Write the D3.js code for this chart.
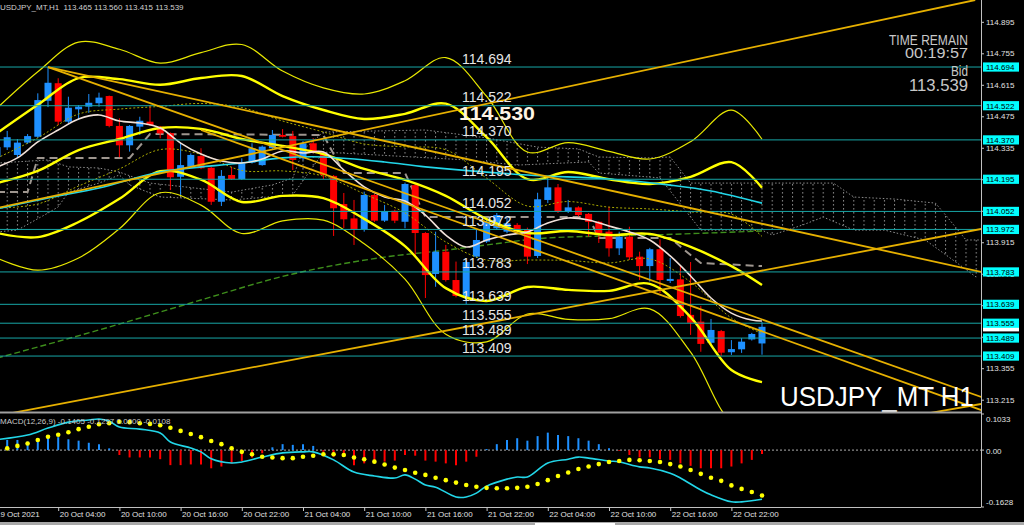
<!DOCTYPE html>
<html><head><meta charset="utf-8">
<script src="https://cdn.jsdelivr.net/npm/d3@7"></script>
<style>
html,body{margin:0;padding:0;background:#000;overflow:hidden}
svg{display:block}
text{font-family:"Liberation Sans",Arial,sans-serif}
</style></head><body>
<svg id="c" width="1024" height="525"></svg>
<script>
// ---------------- DATA ----------------
const symbolTitle = "USDJPY_MT,H1  113.465 113.560 113.415 113.539";
const candleOpen = [114.294,114.337,114.303,114.358,114.384,114.544,114.622,114.451,114.506,114.518,114.533,114.565,114.432,114.346,114.429,114.451,114.429,114.400,114.206,114.251,114.298,114.246,114.095,114.214,114.196,114.269,114.258,114.333,114.392,114.387,114.288,114.355,114.313,114.210,114.085,114.021,113.973,114.125,114.011,114.055,114.006,114.169,113.956,113.774,113.873,113.747,113.672,113.851,113.918,113.977,113.962,113.992,113.973,113.854,114.103,114.159,114.051,114.070,114.041,114.006,113.962,113.888,113.940,113.851,113.809,113.884,113.743,113.750,113.592,113.562,113.468,113.520,113.426,113.439,113.483,113.465];
const candleHigh = [114.352,114.410,114.374,114.396,114.577,114.694,114.644,114.562,114.525,114.574,114.580,114.567,114.466,114.436,114.473,114.525,114.432,114.403,114.358,114.310,114.333,114.250,114.236,114.251,114.288,114.355,114.345,114.414,114.418,114.410,114.365,114.378,114.318,114.214,114.134,114.103,114.140,114.130,114.081,114.060,114.180,114.175,113.960,113.962,113.903,113.829,113.835,113.970,114.015,114.045,114.029,114.000,113.980,114.135,114.206,114.174,114.103,114.075,114.045,114.010,114.073,113.962,113.984,113.873,113.890,113.928,113.845,113.814,113.827,113.632,113.574,113.525,113.480,113.489,113.512,113.560];
const candleLow = [114.281,114.325,114.290,114.352,114.378,114.516,114.436,114.445,114.458,114.490,114.518,114.426,114.293,114.318,114.392,114.432,114.377,114.147,114.121,114.245,114.240,114.081,114.076,114.192,114.192,114.265,114.255,114.330,114.381,114.236,114.280,114.310,114.196,113.943,113.978,113.903,113.962,114.005,114.005,114.000,113.977,113.849,113.667,113.717,113.740,113.670,113.639,113.845,113.912,113.970,113.955,113.955,113.818,113.845,114.089,114.045,114.045,114.030,113.940,113.912,113.851,113.858,113.836,113.747,113.740,113.689,113.734,113.580,113.503,113.428,113.460,113.409,113.414,113.423,113.478,113.415];
const candleClose = [114.338,114.382,114.358,114.387,114.547,114.624,114.451,114.513,114.518,114.535,114.558,114.432,114.346,114.432,114.455,114.436,114.399,114.204,114.258,114.303,114.244,114.095,114.210,114.196,114.266,114.333,114.340,114.392,114.384,114.281,114.355,114.313,114.214,114.066,114.017,113.973,114.125,114.011,114.054,114.011,114.174,113.956,113.769,113.873,113.747,113.676,113.827,113.925,114.006,114.036,113.999,113.962,113.851,114.106,114.159,114.051,114.070,114.036,114.006,113.955,113.888,113.940,113.848,113.809,113.884,113.747,113.752,113.587,113.557,113.463,113.525,113.424,113.440,113.473,113.507,113.539];

// Bollinger bands (read every 4 bars)
const bbIdx   = [0,4,8,12,16,20,24,28,32,36,40,44,48,52,56,60,64,68,72,75];
const bbMid   = [114.178,114.232,114.325,114.374,114.423,114.419,114.374,114.343,114.307,114.241,114.192,114.121,114.018,113.956,113.965,113.947,113.952,113.894,113.809,113.725];
const bbUp1   = [114.289,114.379,114.485,114.507,114.519,114.532,114.514,114.454,114.405,114.352,114.339,114.326,114.200,114.076,114.096,114.071,114.063,114.050,114.040,113.941];
const bbUp2   = [114.400,114.526,114.645,114.640,114.615,114.645,114.654,114.565,114.503,114.463,114.486,114.531,114.382,114.196,114.227,114.195,114.174,114.206,114.271,114.157];
const bbUp3   = [114.511,114.673,114.805,114.773,114.711,114.758,114.794,114.676,114.601,114.574,114.633,114.736,114.564,114.316,114.358,114.319,114.285,114.362,114.502,114.373];
const bbLo1   = [114.067,114.085,114.165,114.241,114.327,114.306,114.234,114.232,114.209,114.130,114.045,113.916,113.836,113.836,113.834,113.823,113.841,113.738,113.578,113.509];
const bbLo2   = [113.956,113.938,114.005,114.108,114.231,114.193,114.094,114.121,114.111,114.019,113.898,113.711,113.654,113.716,113.703,113.699,113.730,113.582,113.347,113.293];
const bbLo3   = [113.845,113.791,113.845,113.975,114.135,114.080,113.954,114.010,114.013,113.908,113.751,113.506,113.472,113.596,113.572,113.575,113.619,113.426,113.116,113.077];

// short MA (white)
const maFastIdx = [0,2,4,6,8,10,12,14,16,18,20,22,24,26,28,30,32,34,36,38,40,42,44,46,48,50,52,54,56,58,60,62,64,66,68,70,72,74,75];
const maFastVal = [114.250,114.290,114.361,114.414,114.463,114.481,114.454,114.445,114.423,114.356,114.307,114.276,114.267,114.285,114.321,114.312,114.316,114.236,114.161,114.116,114.098,114.036,113.947,113.894,113.925,113.947,113.961,114.001,114.023,114.014,113.987,113.961,113.925,113.854,113.765,113.667,113.600,113.569,113.565];
// medium MA (cyan)
const maMidIdx = [0,5,10,16,24,28,32,38,42,52,60,66,70,75];
const maMidVal = [114.063,114.112,114.156,114.227,114.267,114.290,114.294,114.272,114.250,114.214,114.196,114.169,114.143,114.089];
// long MA (green dashed)
const maSlowIdx = [0,10,19,29,38,44,48,54,64,75];
const maSlowVal = [113.400,113.525,113.645,113.774,113.849,113.880,113.903,113.934,113.947,113.965];

// Ichimoku
const spanAIdx = [0,5,7,10,12,15,23,27,29,30,32,42,48,53,57,59,64,66,68,82,84,88,92,93,95,97];
const spanAVal = [114.267,114.281,114.250,114.245,114.227,114.178,114.138,114.170,114.201,114.325,114.405,114.414,114.379,114.338,114.330,114.294,114.290,114.294,114.178,114.178,114.116,114.107,114.089,114.036,113.925,113.925];
const spanBIdx = [0,2,5,6,7,10,12,13,16,23,29,32,46,51,58,59,65,68,69,75,76,79,81,84,87,91,94,96];
const spanBVal = [113.961,113.969,114.045,114.072,114.138,114.178,114.214,114.170,114.116,114.103,114.125,114.316,114.281,114.258,114.272,114.223,114.201,114.027,113.969,113.969,113.947,113.992,114.027,113.969,113.969,113.925,113.827,113.760];
const kijunIdx = [0,3,4,13,15,32,34,40,42,58,59,66,68,69,75];
const kijunVal = [114.138,114.138,114.290,114.290,114.396,114.392,114.223,114.223,114.027,114.027,113.934,113.934,113.858,113.823,113.809];

// horizontal levels and trendlines
const levels = [114.694,114.522,114.370,114.195,114.052,113.972,113.783,113.639,113.555,113.489,113.409];
const trendFromIdx   = [5,5,20,0,0,91.5];
const trendFromPrice = [114.694,114.694,114.414,114.067,113.143,113.156];
const trendToIdx     = [96.5,96.5,96.5,95.9,96.5,96.5];
const trendToPrice   = [113.783,113.227,113.169,114.992,113.974,113.196];

// MACD
const macdHist = [0.030,0.029,0.029,0.024,0.032,0.040,0.037,0.031,0.027,0.021,0.017,0.005,-0.014,-0.021,-0.021,-0.021,-0.026,-0.043,-0.043,-0.041,-0.041,-0.052,-0.047,-0.038,-0.031,-0.021,-0.009,0.008,0.017,0.015,0.017,0.012,-0.005,-0.019,-0.019,-0.043,-0.038,-0.033,-0.033,-0.030,-0.014,-0.016,-0.030,-0.033,-0.038,-0.043,-0.033,-0.019,0.003,0.017,0.029,0.034,0.027,0.040,0.050,0.043,0.040,0.034,0.027,0.017,0.005,-0.002,-0.014,-0.021,-0.021,-0.026,-0.028,-0.038,-0.045,-0.052,-0.052,-0.052,-0.047,-0.038,-0.028,-0.0108];
const macdSignal = [-0.002,0.005,0.012,0.019,0.029,0.038,0.044,0.051,0.060,0.067,0.074,0.077,0.081,0.080,0.077,0.075,0.071,0.064,0.055,0.046,0.037,0.026,0.017,0.005,-0.005,-0.012,-0.019,-0.021,-0.023,-0.023,-0.019,-0.016,-0.012,-0.012,-0.014,-0.021,-0.026,-0.033,-0.041,-0.050,-0.057,-0.065,-0.071,-0.079,-0.086,-0.093,-0.100,-0.105,-0.108,-0.109,-0.109,-0.108,-0.105,-0.097,-0.086,-0.074,-0.064,-0.054,-0.047,-0.040,-0.034,-0.031,-0.028,-0.029,-0.031,-0.034,-0.040,-0.047,-0.057,-0.068,-0.079,-0.088,-0.101,-0.111,-0.120,-0.1297];
const macdLineIdx = [0,3,5,7,9,10,11,12,14,16,17,19,20,21,23,24,26,28,30,31,33,35,37,39,40,41,42,43,45,46,47,48,50,51,52,54,56,57,58,60,61,63,64,66,67,69,70,72,73,75];
const macdLineVal = [0.030,0.043,0.063,0.080,0.086,0.089,0.083,0.066,0.060,0.049,0.023,0.006,-0.005,-0.025,-0.037,-0.034,-0.020,-0.008,-0.005,-0.005,-0.028,-0.063,-0.074,-0.080,-0.071,-0.083,-0.100,-0.106,-0.134,-0.134,-0.123,-0.103,-0.083,-0.077,-0.077,-0.037,-0.026,-0.020,-0.023,-0.031,-0.034,-0.048,-0.051,-0.066,-0.080,-0.114,-0.128,-0.148,-0.148,-0.1405];
const macdTitle = "MACD(12,26,9) -0.1405 -0.1297 0.0000 -0.0108";
const macdTicks = [0.1033, 0, -0.1628];
const macdTickText = ["0.1033","0.00","-0.1628"];

// axes
const priceTicks = [114.895,114.755,114.615,114.475,114.335,114.195,114.055,113.915,113.775,113.635,113.495,113.355,113.215];
const timeIdx = [0,6,12,18,24,30,36,42,48,54,60,66,72];
const timeLabels = ["19 Oct 2021","20 Oct 04:00","20 Oct 10:00","20 Oct 16:00","20 Oct 22:00","21 Oct 04:00","21 Oct 10:00","21 Oct 16:00","21 Oct 22:00","22 Oct 04:00","22 Oct 10:00","22 Oct 16:00","22 Oct 22:00"];
const bidPrice = 113.539;
const markPrice = "114.530";
const infoLines = ["TIME REMAIN","00:19:57","Bid","113.539"];
const bigLabel = "USDJPY_MT H1";

// ---------------- DRAW ----------------
const svg = d3.select("#c");
const plotR = 981, mainB = 412, macdT = 414, macdB = 507;
const x = d3.scaleLinear().domain([0,75]).range([-3,762]);
const y = d3.scaleLinear().domain([113.160,114.992]).range([412.06,0]);
const ym = d3.scaleLinear().domain([-0.1628,0.1033]).range([macdB,macdT]);

svg.append("rect").attr("width",1024).attr("height",525).attr("fill","#000");
const defs = svg.append("defs");
defs.append("clipPath").attr("id","cm").append("rect").attr("x",0).attr("y",0).attr("width",plotR).attr("height",mainB);
defs.append("clipPath").attr("id","cd").append("rect").attr("x",0).attr("y",macdT).attr("width",plotR).attr("height",macdB-macdT);
const pat = defs.append("pattern").attr("id","hatch").attr("patternUnits","userSpaceOnUse")
  .attr("width",x(1)-x(0)).attr("height",4).attr("x",x(0)-0.5).attr("y",0);
pat.append("rect").attr("x",0).attr("y",0).attr("width",1).attr("height",1.6).attr("fill","#8c8c8c");

const main = svg.append("g").attr("clip-path","url(#cm)");

// Ichimoku cloud
const cloudPts = spanAIdx.map((d,k)=>[x(d),y(spanAVal[k])])
  .concat(spanBIdx.map((d,k)=>[x(d),y(spanBVal[k])]).reverse());
main.append("path").attr("d","M"+cloudPts.map(p=>p.join(",")).join("L")+"Z")
  .attr("fill","url(#hatch)").attr("stroke","none");
const pl = d3.line();
main.append("path").attr("d",pl(spanAIdx.map((d,k)=>[x(d),y(spanAVal[k])])))
  .attr("fill","none").attr("stroke","#8c8c8c").attr("stroke-dasharray","1.5,2");
main.append("path").attr("d",pl(spanBIdx.map((d,k)=>[x(d),y(spanBVal[k])])))
  .attr("fill","none").attr("stroke","#8c8c8c").attr("stroke-dasharray","1.5,2");
main.append("path").attr("d",pl(kijunIdx.map((d,k)=>[x(d),y(kijunVal[k])])))
  .attr("fill","none").attr("stroke","#9e968f").attr("stroke-width",2).attr("stroke-dasharray","8,5");

// long MA
main.append("path").attr("d",d3.line().curve(d3.curveMonotoneX)(maSlowIdx.map((d,k)=>[x(d),y(maSlowVal[k])])))
  .attr("fill","none").attr("stroke","#3e8e1c").attr("stroke-width",1.4).attr("stroke-dasharray","6,3");

// candles
const bull = "#1e90ff", bear = "#ff0000";
const cg = main.append("g");
candleOpen.forEach((o,i)=>{
  const c = candleClose[i], col = c>=o?bull:bear;
  cg.append("line").attr("x1",x(i)).attr("x2",x(i)).attr("y1",y(candleHigh[i])).attr("y2",y(candleLow[i]))
    .attr("stroke",col).attr("stroke-width",1);
  const top = y(Math.max(o,c)), bot = y(Math.min(o,c));
  cg.append("rect").attr("x",x(i)-3.5).attr("width",7).attr("y",top).attr("height",Math.max(1.2,bot-top)).attr("fill",col);
});

// bands
const sm = d3.line().curve(d3.curveCatmullRom.alpha(0.5));
function band(vals, col, w, dash){
  main.append("path").attr("d",sm(bbIdx.map((d,k)=>[x(d),y(vals[k])])))
    .attr("fill","none").attr("stroke",col).attr("stroke-width",w).attr("stroke-dasharray",dash||null);
}
band(bbUp1,"#a8a800",1,"2,2");
band(bbLo1,"#a8a800",1,"2,2");
band(bbUp3,"#e8e800",1.2);
band(bbLo3,"#e8e800",1.2);
band(bbUp2,"#ffff00",2.4);
band(bbLo2,"#ffff00",2.4);
band(bbMid,"#ffff00",2.4);

main.append("path").attr("d",sm(maMidIdx.map((d,k)=>[x(d),y(maMidVal[k])])))
  .attr("fill","none").attr("stroke","#22d6e8").attr("stroke-width",1.6);
main.append("path").attr("d",sm(maFastIdx.map((d,k)=>[x(d),y(maFastVal[k])])))
  .attr("fill","none").attr("stroke","#f0e0d8").attr("stroke-width",1.6);

// horizontal levels
levels.forEach(p=>{
  main.append("line").attr("x1",0).attr("x2",plotR).attr("y1",y(p)).attr("y2",y(p))
    .attr("stroke","#17a6a6").attr("stroke-width",1);
});
// trendlines
trendFromIdx.forEach((d,k)=>{
  main.append("line").attr("x1",x(d)).attr("y1",y(trendFromPrice[k])).attr("x2",x(trendToIdx[k])).attr("y2",y(trendToPrice[k]))
    .attr("stroke","#e6b000").attr("stroke-width",1.8);
});
// level labels
levels.forEach(p=>{
  main.append("text").attr("x",462).attr("y",y(p)-3.5).text(p.toFixed(3))
    .attr("fill","#e6e6e6").attr("font-size","14px");
});
main.append("text").attr("x",459).attr("y",120).text(markPrice)
  .attr("fill","#fff4e4").attr("font-size","18px").attr("font-weight","bold")
  .attr("textLength",76).attr("lengthAdjust","spacingAndGlyphs");

// header
svg.append("text").attr("x",0).attr("y",9.5).text(symbolTitle).attr("fill","#d0d0d0").attr("font-size","8px").attr("xml:space","preserve");

// info block
const infoY = [44.5,58,76,90.5], infoW = [79,63,17,59], infoS = [15.5,15.5,14,16.5];
infoLines.forEach((t,k)=>{
  svg.append("text").attr("x",968).attr("y",infoY[k]).attr("text-anchor","end").text(t)
    .attr("fill","#c8c8c8").attr("font-size",infoS[k]+"px")
    .attr("textLength",infoW[k]).attr("lengthAdjust","spacingAndGlyphs");
});
svg.append("text").attr("x",974).attr("y",406).attr("text-anchor","end").text(bigLabel)
  .attr("fill","#ffffff").attr("font-size","28px").attr("textLength",194).attr("lengthAdjust","spacingAndGlyphs");

// right price axis
const ax = svg.append("g").attr("transform",`translate(${plotR},0)`)
  .call(d3.axisRight(y).tickValues(priceTicks).tickSize(3).tickFormat(d3.format(".3f")));
ax.select(".domain").remove();
ax.selectAll("line").attr("stroke","#c8c8c8");
ax.selectAll("text").attr("fill","#e0e0e0").attr("font-size","8px").attr("x",5).attr("font-family","Liberation Sans,Arial,sans-serif");

// bid marker (mostly hidden behind level boxes) and level boxes
svg.append("rect").attr("x",983).attr("y",y(bidPrice)-4.6).attr("width",36).attr("height",9.2).attr("fill","#ffffff");
levels.forEach(p=>{
  svg.append("rect").attr("x",983).attr("y",y(p)-4.6).attr("width",36).attr("height",9.2).attr("fill","#00ffff");
  svg.append("text").attr("x",986).attr("y",y(p)+3).text(p.toFixed(3)).attr("fill","#000").attr("font-size","8px");
});

// axis / separators
svg.append("line").attr("x1",plotR+0.5).attr("x2",plotR+0.5).attr("y1",0).attr("y2",macdB).attr("stroke","#c0c0c0");
svg.append("rect").attr("x",0).attr("y",411.5).attr("width",plotR).attr("height",2).attr("fill","#a0a0a0");
svg.append("line").attr("x1",0).attr("x2",plotR).attr("y1",macdB+0.5).attr("y2",macdB+0.5).attr("stroke","#c0c0c0");
svg.append("rect").attr("x",0).attr("y",522).attr("width",1024).attr("height",3).attr("fill","#a8a8a8");
svg.append("rect").attr("x",535).attr("y",523).attr("width",80).attr("height",2).attr("fill","#ffffff");

// MACD panel
const mg = svg.append("g").attr("clip-path","url(#cd)");
mg.append("line").attr("x1",0).attr("x2",plotR).attr("y1",ym(0)).attr("y2",ym(0))
  .attr("stroke","#b0b0b0").attr("stroke-dasharray","2,2");
macdHist.forEach((v,i)=>{
  mg.append("line").attr("x1",x(i)).attr("x2",x(i)).attr("y1",ym(0)).attr("y2",ym(v))
    .attr("stroke",v>=0?bull:"#ff0000").attr("stroke-width",2);
});
mg.append("path").attr("d",sm(macdLineIdx.map((d,k)=>[x(d),ym(macdLineVal[k])])))
  .attr("fill","none").attr("stroke","#22d6e8").attr("stroke-width",1.6);
macdSignal.forEach((v,i)=>{
  mg.append("circle").attr("cx",x(i)).attr("cy",ym(v)).attr("r",2.3).attr("fill","#ffff00");
});
svg.append("text").attr("x",0).attr("y",424).text(macdTitle).attr("fill","#c8c8c8").attr("font-size","8px");
const mOff = [5,1,-5];
macdTicks.forEach((v,k)=>{
  svg.append("line").attr("x1",plotR).attr("x2",plotR+3).attr("y1",ym(v)).attr("y2",ym(v)).attr("stroke","#c8c8c8");
  svg.append("text").attr("x",plotR+5).attr("y",ym(v)+mOff[k]+3).text(macdTickText[k]).attr("fill","#e0e0e0").attr("font-size","8px");
});

// time axis
const tx = svg.append("g").attr("transform",`translate(0,${macdB})`)
  .call(d3.axisBottom(x).tickValues(timeIdx).tickSize(4).tickFormat((d,k)=>timeLabels[k]));
tx.select(".domain").remove();
tx.selectAll("line").attr("stroke","#c8c8c8");
tx.selectAll("text").attr("fill","#e0e0e0").attr("font-size","8px").attr("text-anchor","start")
  .attr("y",4).attr("dy","0.71em").attr("x",(d,k)=>k===0?-1.5:1).attr("font-family","Liberation Sans,Arial,sans-serif");
</script>
</body></html>
